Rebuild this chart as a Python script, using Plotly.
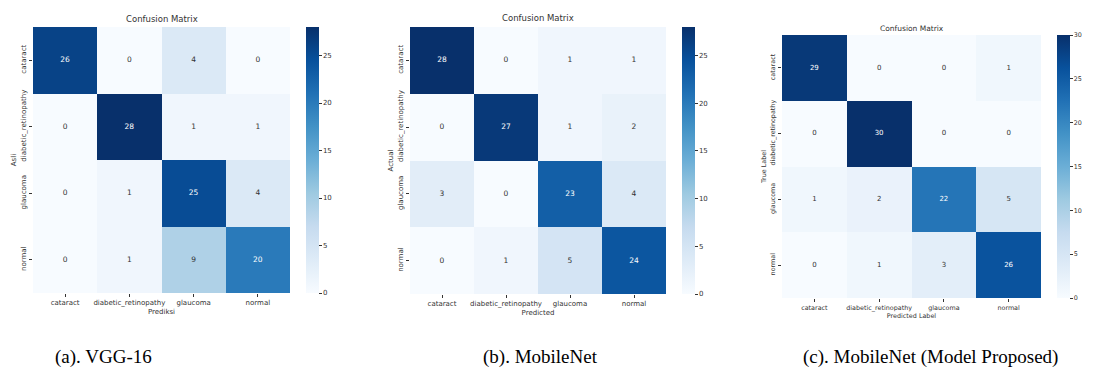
import plotly.graph_objects as go

W, H = 1113, 376

# Class names shared by all three matrices
classes = ["cataract", "diabetic_retinopathy", "glaucoma", "normal"]

# Confusion matrices (rows = true class, columns = predicted class)
cm_vgg16 = [
    [26, 0, 4, 0],
    [0, 28, 1, 1],
    [0, 1, 25, 4],
    [0, 1, 9, 20],
]
cm_mobilenet = [
    [28, 0, 1, 1],
    [0, 27, 1, 2],
    [3, 0, 23, 4],
    [0, 1, 5, 24],
]
cm_proposed = [
    [29, 0, 0, 1],
    [0, 30, 0, 0],
    [1, 2, 22, 5],
    [0, 1, 3, 26],
]

x_titles = ["Prediksi", "Predicted", "Predicted Label"]
y_titles = ["Asli", "Actual", "True Label"]
captions = ["(a). VGG-16", "(b). MobileNet", "(c). MobileNet (Model Proposed)"]

# matplotlib "Blues"
blues = [
    [0.000, "rgb(247,251,255)"],
    [0.125, "rgb(222,235,247)"],
    [0.250, "rgb(198,219,239)"],
    [0.375, "rgb(158,202,225)"],
    [0.500, "rgb(107,174,214)"],
    [0.625, "rgb(66,146,198)"],
    [0.750, "rgb(33,113,181)"],
    [0.875, "rgb(8,81,156)"],
    [1.000, "rgb(8,48,107)"],
]

FONT = "DejaVu Sans"
DARK = "#333333"

# panel geometry in pixels: heatmap box (x0, x1, y0, y1), colorbar x0, sizes
panels = [
    dict(box=(33, 290, 27, 293), cb=306, title_y=19, tick=7.0, ttl=8.5, cell=7.5),
    dict(box=(410, 666, 27, 294), cb=682, title_y=18, tick=7.0, ttl=8.5, cell=7.5),
    dict(box=(782, 1041, 35, 298), cb=1057, title_y=28, tick=6.4, ttl=7.5, cell=7.0),
]
caption_x = [103, 540, 930]
caption_y = 357

fig = go.Figure()
annotations = []
layout = dict()

for i, (cm, p) in enumerate(zip([cm_vgg16, cm_mobilenet, cm_proposed], panels)):
    n = "" if i == 0 else str(i + 1)
    x0, x1, y0, y1 = p["box"]
    vmin = min(min(r) for r in cm)
    vmax = max(max(r) for r in cm)

    fig.add_trace(go.Heatmap(
        z=cm, x=classes, y=classes,
        coloraxis="coloraxis" + n,
        xaxis="x" + n, yaxis="y" + n,
        hoverinfo="skip",
    ))

    # cell value labels, white on dark cells
    xs, ys, ts, cs = [], [], [], []
    for r, row in enumerate(cm):
        for c, v in enumerate(row):
            xs.append(classes[c])
            ys.append(classes[r])
            ts.append(str(v))
            cs.append("white" if (v - vmin) / (vmax - vmin) > 0.55 else DARK)
    fig.add_trace(go.Scatter(
        x=xs, y=ys, text=ts, mode="text",
        textfont=dict(family=FONT, size=p["cell"], color=cs),
        xaxis="x" + n, yaxis="y" + n, showlegend=False, hoverinfo="skip",
    ))

    layout["xaxis" + n] = dict(
        domain=[x0 / W, x1 / W], anchor="y" + n,
        showgrid=False, zeroline=False, showline=False,
        ticks="outside", ticklen=3, tickwidth=1, tickcolor=DARK,
        tickfont=dict(family=FONT, size=p["tick"], color=DARK),
        title=dict(text=x_titles[i], font=dict(family=FONT, size=p["tick"], color=DARK), standoff=2),
        fixedrange=True,
    )
    layout["yaxis" + n] = dict(
        domain=[1 - y1 / H, 1 - y0 / H], anchor="x" + n,
        autorange="reversed",
        showgrid=False, zeroline=False, showline=False,
        ticks="outside", ticklen=3, tickwidth=1, tickcolor=DARK, tickangle=-90,
        tickfont=dict(family=FONT, size=p["tick"], color=DARK),
        title=dict(text=y_titles[i], font=dict(family=FONT, size=p["tick"], color=DARK), standoff=2),
        fixedrange=True,
    )
    tick_step = 5
    layout["coloraxis" + n] = dict(
        colorscale=blues, cmin=vmin, cmax=vmax,
        colorbar=dict(
            x=p["cb"] / W, xanchor="left", xpad=0,
            y=1 - y0 / H, yanchor="top", ypad=0,
            len=(y1 - y0) / H, lenmode="fraction",
            thickness=13, thicknessmode="pixels",
            outlinewidth=0,
            tickvals=list(range(0, vmax + 1, tick_step)),
            ticks="outside", ticklen=3, tickwidth=1, tickcolor=DARK,
            tickfont=dict(family=FONT, size=p["tick"], color=DARK),
        ),
    )
    annotations.append(dict(
        text="Confusion Matrix", xref="paper", yref="paper",
        x=(x0 + x1) / 2 / W, y=1 - p["title_y"] / H,
        xanchor="center", yanchor="middle", showarrow=False,
        font=dict(family=FONT, size=p["ttl"], color=DARK),
    ))
    annotations.append(dict(
        text=captions[i], xref="paper", yref="paper",
        x=caption_x[i] / W, y=1 - caption_y / H,
        xanchor="center", yanchor="middle", showarrow=False,
        font=dict(family="Liberation Serif", size=19, color="black"),
    ))

fig.update_layout(
    width=W, height=H,
    margin=dict(l=0, r=0, t=0, b=0),
    paper_bgcolor="white", plot_bgcolor="white",
    showlegend=False,
    annotations=annotations,
    **layout,
)

fig.write_html("out.html")
